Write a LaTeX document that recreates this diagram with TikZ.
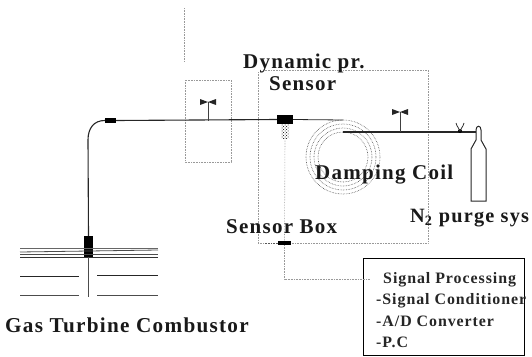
\documentclass[tikz,border=0pt]{standalone}
\usepackage{fontspec}
\usetikzlibrary{patterns}
\setmainfont{Liberation Serif}[LetterSpace=6]
\begin{document}
\begin{tikzpicture}[x=1pt,y=-1pt,
  lab/.style={font=\bfseries\fontsize{21}{23}\selectfont,inner sep=0pt,anchor=west,text=black!90},
  sig/.style={font=\bfseries\fontsize{15.9}{17}\selectfont,inner sep=0pt,anchor=west,text=black!85},
  pipe/.style={line width=1.1pt,black!85},
  faint/.style={line width=0.6pt,black!40,densely dotted},
  ring/.style={line width=0.6pt,black!70,densely dotted},
  blk/.style={fill=black,draw=none,inner sep=0pt,minimum width=#1},
  valve/.style={fill=black!85,draw=none}]
\useasboundingbox (0,0) rectangle (532,356);
% faint boxes
\draw[faint] (185,80) rectangle (231,162);
\draw[faint] (184,8) -- (184,62);
\draw[faint] (258,72) -- (258,243) -- (428,243) -- (428,70) -- (265,70);
% coil
\foreach \r in {37,33,29,25} \draw[ring] (343,157) circle[radius=\r];
% named points
\coordinate (bend) at (88,140);
\node[blk=11pt,minimum height=5pt] (b1) at (110.5,120.5) {};
\node[blk=16pt,minimum height=9pt] (b2) at (285,119.5) {};
\node[pattern=crosshatch dots,pattern color=black,minimum width=8pt,minimum height=14pt,inner sep=0pt] (hatch) at (285,131) {};
\node[blk=9pt,minimum height=21pt] (b3) at (88.5,246.5) {};
\node[blk=13pt,minimum height=4pt] (b4) at (284.5,243) {};
\coordinate (coilin) at (343,132);
\coordinate (coilout) at (343,120);
\coordinate (jn) at (370,132);
% box
\node[draw=black,line width=1pt,minimum width=161pt,minimum height=97pt,inner sep=0pt] (box) at (443.5,306.5) {};
% pipes
\draw[pipe] (b3.north) -- (bend) .. controls (88,128) and (94,120.5) .. (b1.west);
\draw[pipe] (b1.east) -- (b2.west);
\draw[pipe,line width=.8pt] (b2.east) -- (coilout);
\draw[pipe] (coilin) -- (jn) -- (476,132);
\draw[faint] (hatch.south) -- (b4.north);
\draw[faint] (b4.south) -- (284.5,279) -- (370,279);
\draw[faint,black!65] (278,243) -- (265,243);
% T valves
\foreach \x/\yt/\yb in {208/102/121,400/112/132}{
  \draw[line width=1pt,black!75] (\x,\yt) -- (\x,\yb);
  \fill[valve] (\x-8,\yt-3) -- (\x,\yt) -- (\x+8,\yt-3) -- (\x+8,\yt+3) -- (\x,\yt) -- (\x-8,\yt+3) -- cycle;
}
% small valve
\fill[black] (460,131) circle[radius=2];
\draw[line width=.8pt,black!80] (456,123) .. controls (457,127) and (459,128) .. (460,131) .. controls (461,128) and (463,127) .. (464,123);
% cylinder
\draw[line width=1pt,black!85] (471,201) -- (471,149) -- (476,140) -- (476,130) .. controls (476,125) and (481,125) .. (481,130) -- (481,140) -- (486,149) -- (486,201) -- cycle;
% combustor
\draw[line width=.7pt,black!60] (20,248) -- (158,248);
\draw[line width=.8pt,black!70] (20,252) -- (158,250);
\draw[line width=.8pt,black!70] (20,254) -- (158,254);
\draw[line width=.8pt,black!80] (20,257.5) -- (158,257.5);
\draw[line width=1pt,black!85] (20,276) -- (79,276);
\draw[line width=1pt,black!85] (97,275.5) -- (158,275.5);
\draw[line width=.8pt,black!70] (20,295) -- (79,295);
\draw[line width=.8pt,black!70] (97,295) -- (158,295);
\draw[line width=.8pt,black!70] (b3.south) -- (88.5,297);
% labels
\node[lab] (t1) at (243,63) {Dynamic pr.};
\node[lab] (t2) at (269,84) {Sensor};
\node[lab] (t3) at (315,175) {Damping Coil};
\node[lab,font=\bfseries\fontsize{20.3}{23}\selectfont] (t4) at (410,218) {N\textsubscript{2} purge sys};
\node[lab] (t5) at (226,227) {Sensor Box};
\node[lab,font=\bfseries\fontsize{21.2}{23}\selectfont] (t6) at (5,325) {Gas Turbine Combustor};
\node[sig] (s1) at (383,280) {Signal Processing};
\node[sig] (s2) at (376,301) {-Signal Conditioner};
\node[sig] (s3) at (376,321) {-A/D Converter};
\node[sig] (s4) at (376,342) {-P.C};
\end{tikzpicture}
\end{document}
